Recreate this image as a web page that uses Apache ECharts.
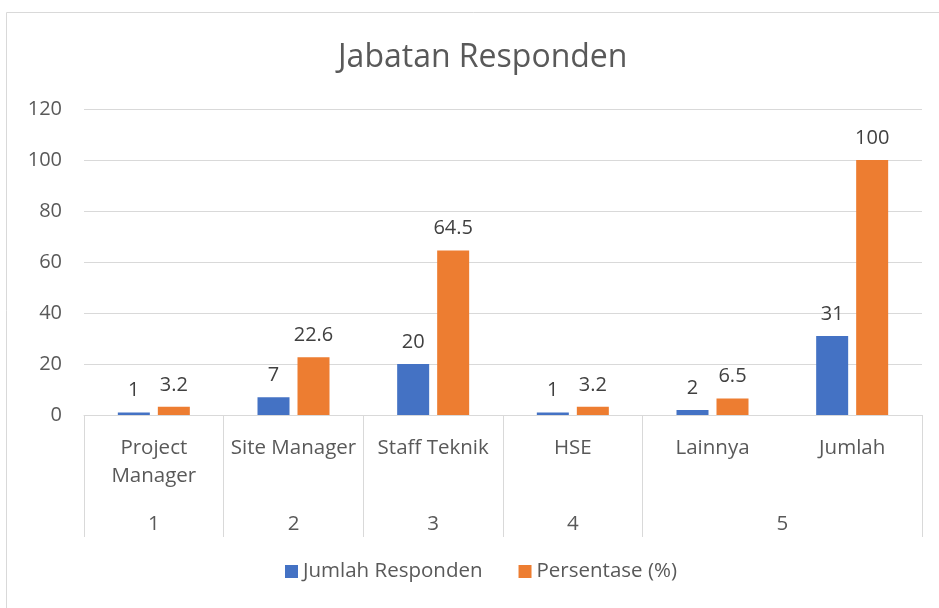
<!DOCTYPE html>
<html>
<head>
<meta charset="utf-8">
<script src="https://cdn.jsdelivr.net/npm/echarts@6/dist/echarts.min.js"></script>
<style>
    html, body { margin: 0; padding: 0; background: #fff; }
    #chart { width: 939px; height: 608px; }
</style>
</head>
<body>
<div id="chart"></div>
<script>
// data
var categories = ["Project Manager", "Site Manager", "Staff Teknik", "HSE", "Lainnya", "Jumlah"];
var groupLabels = ["1", "2", "3", "4", "5"];
var groupSpans = [1, 1, 1, 1, 2]; // how many categories each group covers
var jumlahResponden = [1, 7, 20, 1, 2, 31];
var persentase = [3.2, 22.6, 64.5, 3.2, 6.5, 100];
var yTicks = [0, 20, 40, 60, 80, 100, 120];

var font = "'Open Sans', 'Noto Sans', sans-serif";
var grey = "#595959";
var lineCol = "#d9d9d9";

// centre of each group on a 0..n scale, for the 2nd level axis
var groupPos = {};
var acc = 0;
groupLabels.forEach(function (lab, i) {
    groupPos[(acc + groupSpans[i] / 2).toFixed(1)] = lab;
    acc += groupSpans[i];
});
// category indexes where a group starts (boundary ticks shown)
var groupStarts = {};
acc = 0;
groupSpans.forEach(function (s) { groupStarts[acc] = true; acc += s; });
groupStarts[acc] = true;

var chart = echarts.init(document.getElementById("chart"));

var option = {
    animation: false,
    textStyle: { fontFamily: font },
    color: ["#4472C4", "#ED7D31"],
    title: {
        text: "Jabatan Responden",
        left: 333,
        top: 37,
        textStyle: { fontFamily: font, fontSize: 32, fontWeight: "normal", color: grey }
    },
    graphic: [{
        type: "rect",
        left: 4, top: 10,
        shape: { width: 960, height: 620 },
        style: { fill: "none", stroke: lineCol, lineWidth: 1 },
        silent: true
    }],
    legend: {
        bottom: 21,
        left: 280,
        itemWidth: 13,
        itemHeight: 13,
        itemGap: 36,
        icon: "rect",
        textStyle: { fontFamily: font, fontSize: 20.5, color: grey }
    },
    grid: { left: 84, right: 17, top: 109, bottom: 193 },
    xAxis: [{
        type: "category",
        data: categories,
        axisLine: { lineStyle: { color: lineCol, width: 1 } },
        axisTick: {
            show: true,
            length: 122,
            lineStyle: { color: lineCol },
            interval: function (idx) { return !!groupStarts[idx]; }
        },
        axisLabel: {
            interval: 0,
            margin: 19,
            fontFamily: font,
            fontSize: 20.5,
            lineHeight: 28,
            color: grey,
            formatter: function (v) { return v === "Project Manager" ? "Project\nManager" : v; }
        }
    }, {
        type: "value",
        position: "bottom",
        offset: 93,
        min: 0,
        max: categories.length,
        interval: 0.5,
        axisLine: { show: false },
        axisTick: { show: false },
        splitLine: { show: false },
        axisLabel: {
            margin: 6,
            fontFamily: font,
            fontSize: 20.5,
            color: grey,
            showMinLabel: true,
            showMaxLabel: true,
            formatter: function (v) { return groupPos[v.toFixed(1)] || ""; }
        }
    }],
    yAxis: {
        type: "value",
        min: yTicks[0],
        max: yTicks[yTicks.length - 1],
        interval: yTicks[1] - yTicks[0],
        axisLine: { show: false },
        axisTick: { show: false },
        splitLine: { lineStyle: { color: lineCol } },
        axisLabel: { fontFamily: font, fontSize: 20, color: grey, margin: 22 }
    },
    series: [{
        name: "Jumlah Responden",
        type: "bar",
        data: jumlahResponden,
        barWidth: 32,
        barGap: "25%",
        label: { show: true, position: "top", distance: 12, fontFamily: font, fontSize: 20, color: "#404040" }
    }, {
        name: "Persentase (%)",
        type: "bar",
        data: persentase,
        barWidth: 32,
        barGap: "25%",
        label: { show: true, position: "top", distance: 12, fontFamily: font, fontSize: 20, color: "#404040" }
    }]
};

chart.setOption(option);
</script>
</body>
</html>
